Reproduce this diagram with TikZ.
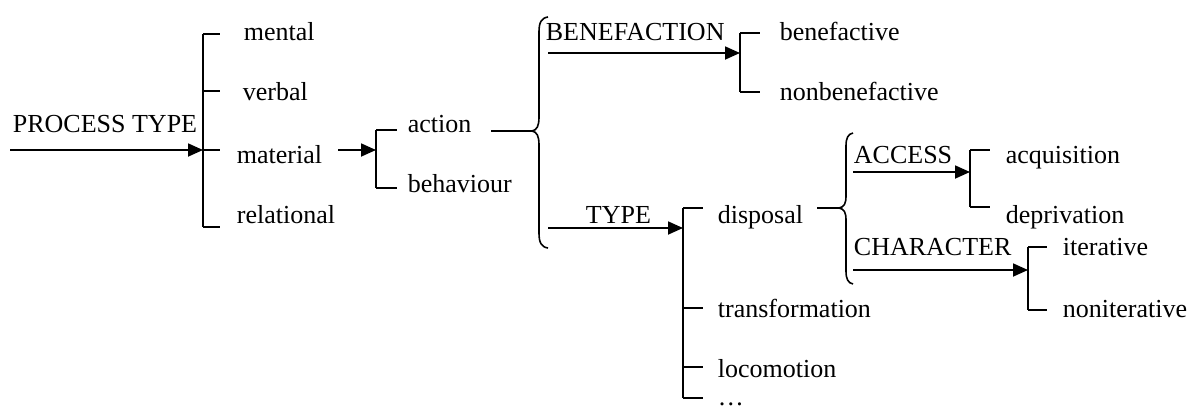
\documentclass[tikz,border=0pt]{standalone}
\usepackage{fontspec}
\setmainfont{Liberation Serif}
\usetikzlibrary{arrows.meta}

\begin{document}
\begin{tikzpicture}[x=1pt,y=-1pt,
  line width=1.8pt,
  term/.style={anchor=base west,inner sep=0pt,font=\fontsize{26}{30}\selectfont},
  entry/.style={-{Triangle[length=15pt,width=13pt]}},
  tick/.style={line cap=butt}]
\useasboundingbox (0,0) rectangle (1189,407);

% ---- terms and system names ----
\node[term] (ptype)  at (12,132)  {PROCESS TYPE};
\node[term] (mental) at (243,40)  {mental};
\node[term] (verbal) at (242,100) {verbal};
\node[term] (mater)  at (236,163) {material};
\node[term] (relat)  at (236,223) {relational};
\node[term] (action) at (407,132) {action};
\node[term] (behav)  at (407,192) {behaviour};
\node[term] (benef)  at (545,40)  {BENEFACTION};
\node[term] (bfv)    at (779,40)  {benefactive};
\node[term] (nbfv)   at (779,100) {nonbenefactive};
\node[term] (typ)    at (585,223) {TYPE};
\node[term] (disp)   at (717,223) {disposal};
\node[term] (trans)  at (717,317) {transformation};
\node[term] (locom)  at (717,377) {locomotion};
\node[term] (more)   at (717,405) {\dots};
\node[term] (access) at (853,163) {ACCESS};
\node[term] (acq)    at (1005,163) {acquisition};
\node[term] (depr)   at (1005,223) {deprivation};
\node[term] (charac) at (853,255) {CHARACTER};
\node[term] (iter)   at (1062,255) {iterative};
\node[term] (niter)  at (1062,317) {noniterative};

% ---- PROCESS TYPE system ----
\coordinate (p0) at (10,150);
\coordinate (pT) at (203,34);
\coordinate (pM) at (203,150);
\coordinate (pB) at (203,227);
\draw[entry] (p0) -- (pM);
\draw[tick] (pT) -- (pB);
\draw[tick] (pT) -- ++(17,0);
\draw[tick] (203,91) -- ++(17,0);
\draw[tick] (pM) -- ++(17,0);
\draw[tick] (pB) -- ++(17,0);

% ---- material: action / behaviour ----
\coordinate (m0) at (338,150);
\coordinate (mM) at (376,150);
\coordinate (mT) at (376,130);
\coordinate (mB) at (376,188);
\draw[entry] (m0) -- (mM);
\draw[tick] (mT) -- (mB);
\draw[tick] (mT) -- ++(21,0);
\draw[tick] (mB) -- ++(21,0);

% ---- action: simultaneous systems ----
\coordinate (a0) at (491,131);
\coordinate (aTip) at (532,131);
\draw (a0) -- (aTip);
\draw[line width=1.6pt] (548,17) .. controls (541,18) and (539,23) .. (539,32)
  -- (539,117) .. controls (539,126) and (537,130) .. (aTip)
  .. controls (537,132) and (539,136) .. (539,145)
  -- (539,233) .. controls (539,242) and (541,247) .. (548,248);

% BENEFACTION
\coordinate (b0) at (548,53);
\coordinate (bM) at (740,53);
\coordinate (bT) at (740,33);
\coordinate (bB) at (740,92);
\draw[entry] (b0) -- (bM);
\draw[tick] (bT) -- (bB);
\draw[tick] (bT) -- ++(20,0);
\draw[tick] (bB) -- ++(20,0);

% TYPE
\coordinate (t0) at (548,228);
\coordinate (tM) at (683,228);
\coordinate (tT) at (683,208);
\coordinate (tB) at (683,398);
\draw[entry] (t0) -- (tM);
\draw[tick] (tT) -- (tB);
\draw[tick] (tT) -- ++(20,0);
\draw[tick] (683,308) -- ++(20,0);
\draw[tick] (683,367) -- ++(20,0);
\draw[tick] (tB) -- ++(20,0);

% ---- disposal: simultaneous systems ----
\coordinate (d0) at (817,208);
\coordinate (dTip) at (839,208);
\draw (d0) -- (dTip);
\draw[line width=1.6pt] (853,133) .. controls (848,134) and (846,138) .. (846,146)
  -- (846,196) .. controls (846,204) and (844,207) .. (dTip)
  .. controls (844,209) and (846,212) .. (846,220)
  -- (846,271) .. controls (846,279) and (848,283) .. (853,284);

% ACCESS
\coordinate (c0) at (853,172);
\coordinate (cM) at (970,172);
\coordinate (cT) at (970,150);
\coordinate (cB) at (970,207);
\draw[entry] (c0) -- (cM);
\draw[tick] (cT) -- (cB);
\draw[tick] (cT) -- ++(20,0);
\draw[tick] (cB) -- ++(20,0);

% CHARACTER
\coordinate (h0) at (853,270);
\coordinate (hM) at (1028,270);
\coordinate (hT) at (1028,247);
\coordinate (hB) at (1028,310);
\draw[entry] (h0) -- (hM);
\draw[tick] (hT) -- (hB);
\draw[tick] (hT) -- ++(19,0);
\draw[tick] (hB) -- ++(19,0);
\end{tikzpicture}
\end{document}
